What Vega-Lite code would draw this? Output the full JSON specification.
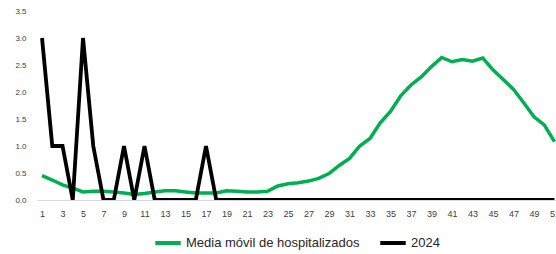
{
  "$schema": "https://vega.github.io/schema/vega-lite/v6.json",
  "width": 519,
  "height": 189,
  "autosize": {"type": "none"},
  "padding": {"left": 37, "top": 11, "right": 0, "bottom": 54},
  "background": "white",
  "config": {"view": {"stroke": null}, "font": "Liberation Sans"},
  "data": {
    "values": [
      {"week": 1, "hosp": 0.45, "y2024": 3},
      {"week": 2, "hosp": 0.37, "y2024": 1},
      {"week": 3, "hosp": 0.28, "y2024": 1},
      {"week": 4, "hosp": 0.22, "y2024": 0},
      {"week": 5, "hosp": 0.15, "y2024": 3},
      {"week": 6, "hosp": 0.16, "y2024": 1},
      {"week": 7, "hosp": 0.16, "y2024": 0},
      {"week": 8, "hosp": 0.15, "y2024": 0},
      {"week": 9, "hosp": 0.13, "y2024": 1},
      {"week": 10, "hosp": 0.1, "y2024": 0},
      {"week": 11, "hosp": 0.12, "y2024": 1},
      {"week": 12, "hosp": 0.15, "y2024": 0},
      {"week": 13, "hosp": 0.17, "y2024": 0},
      {"week": 14, "hosp": 0.17, "y2024": 0},
      {"week": 15, "hosp": 0.15, "y2024": 0},
      {"week": 16, "hosp": 0.13, "y2024": 0},
      {"week": 17, "hosp": 0.13, "y2024": 1},
      {"week": 18, "hosp": 0.13, "y2024": 0},
      {"week": 19, "hosp": 0.17, "y2024": 0},
      {"week": 20, "hosp": 0.16, "y2024": 0},
      {"week": 21, "hosp": 0.15, "y2024": 0},
      {"week": 22, "hosp": 0.15, "y2024": 0},
      {"week": 23, "hosp": 0.16, "y2024": 0},
      {"week": 24, "hosp": 0.26, "y2024": 0},
      {"week": 25, "hosp": 0.3, "y2024": 0},
      {"week": 26, "hosp": 0.32, "y2024": 0},
      {"week": 27, "hosp": 0.35, "y2024": 0},
      {"week": 28, "hosp": 0.4, "y2024": 0},
      {"week": 29, "hosp": 0.49, "y2024": 0},
      {"week": 30, "hosp": 0.64, "y2024": 0},
      {"week": 31, "hosp": 0.77, "y2024": 0},
      {"week": 32, "hosp": 1.0, "y2024": 0},
      {"week": 33, "hosp": 1.14, "y2024": 0},
      {"week": 34, "hosp": 1.43, "y2024": 0},
      {"week": 35, "hosp": 1.64, "y2024": 0},
      {"week": 36, "hosp": 1.93, "y2024": 0},
      {"week": 37, "hosp": 2.13, "y2024": 0},
      {"week": 38, "hosp": 2.28, "y2024": 0},
      {"week": 39, "hosp": 2.47, "y2024": 0},
      {"week": 40, "hosp": 2.64, "y2024": 0},
      {"week": 41, "hosp": 2.56, "y2024": 0},
      {"week": 42, "hosp": 2.6, "y2024": 0},
      {"week": 43, "hosp": 2.57, "y2024": 0},
      {"week": 44, "hosp": 2.63, "y2024": 0},
      {"week": 45, "hosp": 2.41, "y2024": 0},
      {"week": 46, "hosp": 2.23, "y2024": 0},
      {"week": 47, "hosp": 2.05, "y2024": 0},
      {"week": 48, "hosp": 1.8, "y2024": 0},
      {"week": 49, "hosp": 1.54, "y2024": 0},
      {"week": 50, "hosp": 1.39, "y2024": 0},
      {"week": 51, "hosp": 1.08, "y2024": 0}
    ]
  },
  "transform": [
    {"fold": ["hosp", "y2024"], "as": ["key", "value"]},
    {"calculate": "datum.key === 'hosp' ? 'Media móvil de hospitalizados' : '2024'", "as": "series"}
  ],
  "encoding": {
    "x": {
      "field": "week", "type": "quantitative",
      "scale": {"domain": [0.51, 51.15], "nice": false, "zero": false},
      "axis": {
        "title": null, "values": [1,3,5,7,9,11,13,15,17,19,21,23,25,27,29,31,33,35,37,39,41,43,45,47,49,51],
        "grid": false, "ticks": false, "domainColor": "#d9d9d9", "domainWidth": 1,
        "labelFontSize": 9, "labelColor": "#404040", "labelPadding": 9, "labelFlush": false, "labelOverlap": false, "labelBound": false
      }
    },
    "y": {
      "field": "value", "type": "quantitative",
      "scale": {"domain": [0, 3.5], "nice": false},
      "axis": {
        "title": null, "values": [0, 0.5, 1, 1.5, 2, 2.5, 3, 3.5], "format": ".1f",
        "grid": false, "ticks": false, "domain": false,
        "labelFontSize": 8, "labelColor": "#404040", "labelPadding": 11
      }
    },
    "color": {
      "field": "series", "type": "nominal",
      "scale": {"domain": ["Media móvil de hospitalizados", "2024"], "range": ["#00B050", "#000000"]},
      "legend": {
        "title": null, "orient": "none", "legendX": 116, "legendY": 217, "direction": "horizontal",
        "symbolType": "stroke", "symbolSize": 650, "symbolStrokeWidth": 4,
        "labelFontSize": 13, "labelColor": "#262626", "labelOffset": 3, "columnPadding": 12, "labelLimit": 400
      }
    }
  },
  "layer": [
    {"transform": [{"filter": "datum.key === 'hosp'"}], "mark": {"type": "line", "strokeWidth": 3.5, "clip": true}},
    {"transform": [{"filter": "datum.key === 'y2024'"}], "mark": {"type": "line", "strokeWidth": 3.8, "clip": true}}
  ]
}
